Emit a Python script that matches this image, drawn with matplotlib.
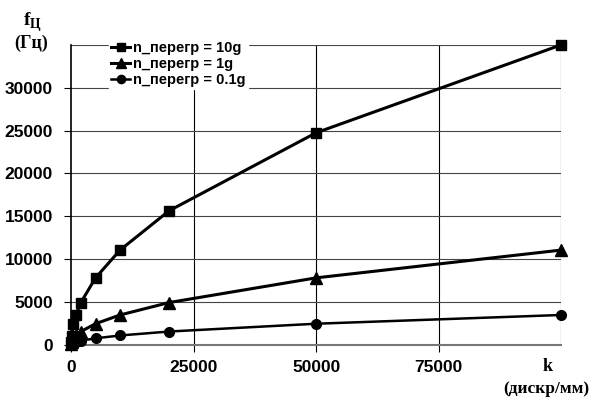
import matplotlib.pyplot as plt

# stiffness k (дискр/мм) and frequency f (Гц) for each overload
k_values = [10, 100, 500, 1000, 2000, 5000, 10000, 20000, 50000, 100000]
f_10g = [350, 1100, 2480, 3500, 4950, 7830, 11070, 15650, 24750, 35000]
f_1g = [110, 350, 780, 1110, 1570, 2480, 3500, 4950, 7830, 11070]
f_01g = [35, 110, 250, 350, 500, 780, 1110, 1570, 2480, 3500]

labels = ["n_перегр = 10g", "n_перегр = 1g", "n_перегр = 0.1g"]
x_ticks = [0, 25000, 50000, 75000]
y_ticks = [0, 5000, 10000, 15000, 20000, 25000, 30000]

plt.rcParams['font.family'] = ['Liberation Sans', 'DejaVu Sans']
plt.rcParams['mathtext.fontset'] = 'custom'
plt.rcParams['mathtext.bf'] = 'Liberation Serif:bold'
plt.rcParams['mathtext.rm'] = 'Liberation Serif:bold'

fig = plt.figure(figsize=(5.92, 3.97), dpi=100)
ax = fig.add_axes([0.12, 0.131, 0.828, 0.756])

ax.set_xlim(0, 100000)
ax.set_ylim(0, 35000)

# grid
for x in [25000, 50000, 75000, 100000]:
    ax.axvline(x, color='black', lw=0.8, zorder=1)
for y in y_ticks[1:] + [35000]:
    ax.axhline(y, color='#444444', lw=0.8, zorder=1)

ax.plot(k_values, f_10g, color='black', lw=2.2, marker='s', ms=7,
        label=labels[0], clip_on=False, zorder=3)
ax.plot(k_values, f_1g, color='black', lw=2.2, marker='^', ms=8,
        label=labels[1], clip_on=False, zorder=3)
ax.plot(k_values, f_01g, color='black', lw=1.8, marker='o', ms=7,
        label=labels[2], clip_on=False, zorder=3)

for s in ['top', 'right']:
    ax.spines[s].set_visible(False)
ax.spines['left'].set_color('black')
ax.spines['left'].set_linewidth(1.2)
ax.spines['bottom'].set_color('#777777')
ax.spines['bottom'].set_linewidth(1.5)

ax.set_xticks(x_ticks)
ax.set_yticks(y_ticks)
ax.tick_params(axis='both', direction='out', length=5, width=0.8,
               labelsize=12.5)
ax.tick_params(axis='x', pad=6)
ax.tick_params(axis='y', pad=8)
for t in ax.get_xticklabels() + ax.get_yticklabels():
    t.set_fontweight('bold')

leg = ax.legend(loc='upper left', bbox_to_anchor=(0.063, 1.045), frameon=True,
                fancybox=False, edgecolor='white', framealpha=1,
                prop={'weight': 'bold', 'size': 10.5}, handlelength=1.3,
                handletextpad=0.2, labelspacing=0.15, borderpad=0.15,
                markerscale=0.85)
leg.set_zorder(5)

fig.text(0.055, 0.945, r'$\mathbf{f}_{\mathbf{Ц}}$', fontsize=14,
         ha='center', va='center')
fig.text(0.052, 0.89, '(Гц)', fontsize=13, fontweight='bold',
         family='Liberation Serif', ha='center', va='center')
fig.text(0.925, 0.078, 'k', fontsize=13, fontweight='bold',
         family='Liberation Serif', ha='center', va='center')
fig.text(0.922, 0.02, '(дискр/мм)', fontsize=12.5, fontweight='bold',
         family='Liberation Serif', ha='center', va='center')

fig.savefig('out.png', dpi=100)
